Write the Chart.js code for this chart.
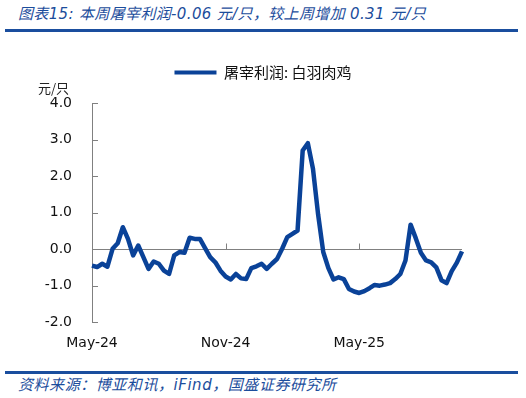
<!DOCTYPE html>
<html>
<head>
<meta charset="utf-8">
<script src="https://cdn.jsdelivr.net/npm/chart.js@4.4.1/dist/chart.umd.min.js"></script>
<style>
  body { margin: 0; background: #fff; }
  #page { position: relative; width: 526px; height: 398px; overflow: hidden; }
  #title, #source {
    position: absolute; left: 18px; color: #1c4d9c; font-style: italic;
    font-family: "DejaVu Sans", "Noto Sans CJK SC", sans-serif; white-space: nowrap;
  }
  #title { top: 2px; font-size: 15px; letter-spacing: 0.35px; }
  #source { top: 373px; font-size: 15px; letter-spacing: 0.55px; }
  .rule { position: absolute; left: 5px; width: 513px; height: 3px; background: #1a4e9e; }
  #unit { position: absolute; top: 78px; left: 38px; font-size: 13px; color: #222;
    font-family: "Noto Sans CJK SC", sans-serif; }
  #wrap { position: absolute; left: 0; top: 55px; }
</style>
</head>
<body>
<div id="page">
  <div id="title">图表15: 本周屠宰利润-0.06 元/只，较上周增加 0.31 元/只</div>
  <div class="rule" style="top:29px"></div>
  <div id="wrap"><canvas id="profitChart" width="526" height="302"></canvas></div>
  <div id="unit">元/只</div>
  <div class="rule" style="top:371px"></div>
  <div id="source">资料来源：博亚和讯，iFind，国盛证券研究所</div>
</div>
<script>
// Weekly slaughter profit, white-feather broiler (yuan per bird)
const seriesName = "屠宰利润: 白羽肉鸡";
const profit = [
  -0.45, -0.49, -0.40, -0.48, 0.01, 0.16, 0.60, 0.28, -0.17, 0.10,
  -0.22, -0.54, -0.34, -0.40, -0.59, -0.68, -0.17, -0.08, -0.10, 0.31,
  0.28, 0.28, 0.03, -0.22, -0.36, -0.59, -0.75, -0.83, -0.68, -0.80,
  -0.82, -0.52, -0.47, -0.40, -0.54, -0.40, -0.27, 0.01, 0.33, 0.42,
  0.51, 2.70, 2.90, 2.20, 0.95, -0.08, -0.52, -0.83, -0.77, -0.82,
  -1.09, -1.16, -1.20, -1.15, -1.07, -0.98, -1.00, -0.97, -0.93, -0.82,
  -0.68, -0.31, 0.67, 0.30, -0.10, -0.31, -0.36, -0.50, -0.85, -0.93,
  -0.60, -0.37, -0.06
];

// x tick labels and the week they sit on
const tickLabels = ["May-24", "Nov-24", "May-25"];
const tickIndex = [0, 26, 52];

// one category per week
const weeks = [];
const start = new Date(2024, 4, 3);
for (let i = 0; i < profit.length; i++) {
    const d = new Date(start.getTime() + i * 7 * 86400000);
    weeks.push(d.toISOString().slice(0, 10));
}

const axisGray = "#808080";
const lineBlue = "#0a4298";

// extra room under the legend
const legendGap = {
    id: "legendGap",
    beforeInit(chart) {
        const fit = chart.legend.fit;
        chart.legend.fit = function () {
            fit.call(this);
            this.height += 13;
        };
    }
};

// inward tick marks on the y axis and small ticks on the zero line
const tickMarks = {
    id: "tickMarks",
    afterDraw(chart) {
        const {ctx, chartArea, scales} = chart;
        ctx.save();
        ctx.strokeStyle = axisGray;
        ctx.lineWidth = 1;
        ctx.beginPath();
        scales.y.ticks.forEach(t => {
            const py = Math.round(scales.y.getPixelForValue(t.value)) + 0.5;
            ctx.moveTo(chartArea.left, py);
            ctx.lineTo(chartArea.left + 6, py);
        });
        const y0 = Math.round(scales.y.getPixelForValue(0)) + 0.5;
        tickIndex.forEach(i => {
            if (i === 0) return;
            const px = Math.round(scales.x.getPixelForValue(i)) + 0.5;
            ctx.moveTo(px, y0);
            ctx.lineTo(px, y0 - 6);
        });
        ctx.stroke();
        ctx.restore();
    }
};

new Chart(document.getElementById("profitChart"), {
    type: "line",
    data: {
        labels: weeks,
        datasets: [{
            label: seriesName,
            data: profit,
            borderColor: lineBlue,
            backgroundColor: lineBlue,
            borderWidth: 4.5,
            pointRadius: 0,
            tension: 0,
            borderJoinStyle: "round"
        }]
    },
    options: {
        responsive: false,
        animation: false,
        devicePixelRatio: 1,
        layout: { padding: 0 },
        plugins: {
            legend: {
                position: "top",
                labels: {
                    boxWidth: 42,
                    boxHeight: 4,
                    padding: 10,
                    color: "#111",
                    font: { family: "'Noto Sans CJK SC'", size: 15 },
                    generateLabels(chart) {
                        const items = Chart.defaults.plugins.legend.labels.generateLabels(chart);
                        items.forEach(it => { it.lineWidth = 0; it.strokeStyle = "transparent"; });
                        return items;
                    }
                }
            },
            tooltip: { enabled: false }
        },
        scales: {
            x: {
                grid: { display: false },
                border: { display: false },
                ticks: {
                    autoSkip: false,
                    maxRotation: 0,
                    padding: 5,
                    color: "#111",
                    font: { family: "'DejaVu Sans'", size: 14 },
                    callback: (v, index) => {
                        const k = tickIndex.indexOf(index);
                        return k >= 0 ? tickLabels[k] : "";
                    }
                }
            },
            y: {
                min: -2,
                max: 4,
                afterFit: s => { s.width = 92; },
                grid: {
                    drawTicks: false,
                    color: ctx => ctx.tick && ctx.tick.value === 0 ? axisGray : "transparent"
                },
                border: { display: true, color: axisGray, width: 1 },
                ticks: {
                    stepSize: 1,
                    padding: 20,
                    color: "#111",
                    font: { family: "'DejaVu Sans'", size: 14 },
                    callback: v => v.toFixed(1)
                }
            },
            yRight: {
                position: "right",
                min: -2,
                max: 4,
                afterFit: s => { s.width = 64; },
                grid: { display: false },
                border: { display: false },
                ticks: { display: false }
            }
        }
    },
    plugins: [legendGap, tickMarks]
});
</script>
</body>
</html>
